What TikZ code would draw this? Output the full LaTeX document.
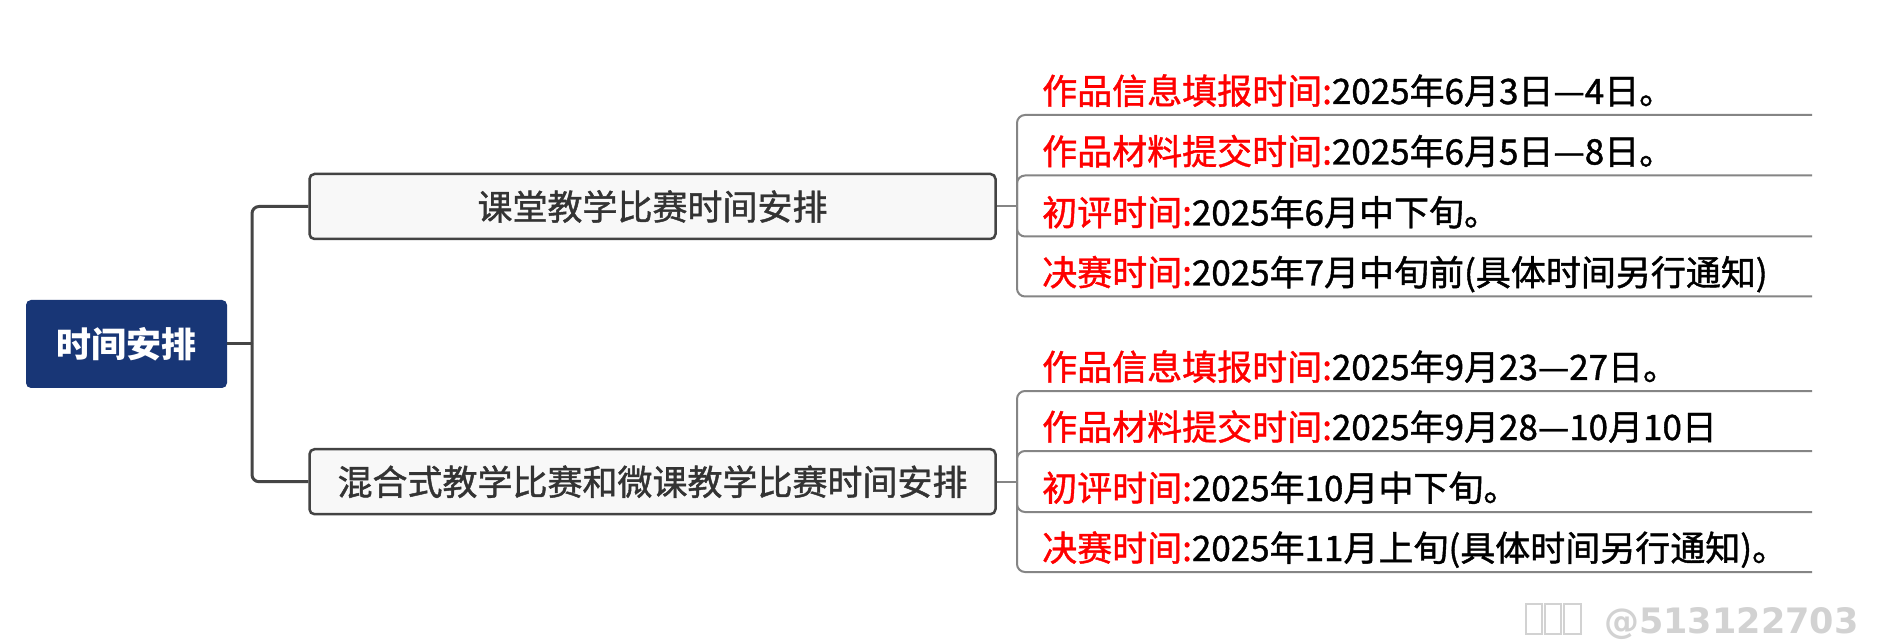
\documentclass[tikz,border=0pt]{standalone}
\usepackage{fontspec}
\newfontfamily\cjk{Noto Sans CJK SC}
\newfontfamily\cjkm[FakeBold=1.2]{Noto Sans CJK SC}
\newfontfamily\wmfont{DejaVu Sans}
\definecolor{rootblue}{HTML}{183676}
\definecolor{topicborder}{HTML}{434343}
\definecolor{topicfill}{HTML}{F8F8F8}
\definecolor{topictext}{HTML}{333333}
\definecolor{trunkgray}{HTML}{454545}
\definecolor{linegray}{HTML}{858585}
\definecolor{labelred}{HTML}{FF0000}
\definecolor{wmgray}{HTML}{D2D2D2}
\newcommand\lbl[1]{\textcolor{labelred}{#1}}
\begin{document}
\begin{tikzpicture}[x=1pt,y=-1pt,
  rootnode/.style={fill=rootblue, rounded corners=5pt, minimum width=201pt, minimum height=88pt, inner sep=0pt, text=white, font=\cjk\bfseries\fontsize{35}{42}\selectfont},
  topic/.style={draw=topicborder, line width=2.5pt, fill=topicfill, rounded corners=5pt, minimum width=686pt, minimum height=65pt, inner sep=0pt, text=topictext, font=\cjkm\fontsize{35}{42}\selectfont},
  leaf/.style={anchor=base west, inner sep=0pt, font=\cjkm\fontsize{35}{42}\selectfont, text=black},
  trunk/.style={draw=trunkgray, line width=3pt, rounded corners=7pt},
  leafline/.style={draw=linegray, line width=2pt, rounded corners=8pt},
  wm/.style={anchor=base west, inner sep=0pt, text=wmgray, font=\wmfont\bfseries\fontsize{35}{42}\selectfont},
  tofu/.style={draw=wmgray, line width=1.5pt}
]
\useasboundingbox[fill=white] (0,0) rectangle (1883,644);

% root and topics
\node[rootnode] (root) at (126.5,344) {时间安排};
\node[topic] (b1) at (652.5,206.5) {课堂教学比赛时间安排};
\node[topic] (b2) at (652.5,481.7) {混合式教学比赛和微课教学比赛时间安排};

\coordinate (t) at (252,344);
\draw[trunk] (root.east) -- (t);
\draw[trunk] (t) |- (b1.west);
\draw[trunk] (t) |- (b2.west);

% junctions
\coordinate (j1) at (1017,206.5);
\coordinate (j2) at (1017,481.7);
\draw[leafline] (b1.east) -- (j1);
\draw[leafline] (b2.east) -- (j2);

% group 1 leaves
\node[leaf] (l11) at (1042,104) {\lbl{作品信息填报时间:}2025年6月3日—4日。};
\node[leaf] (l12) at (1042,164.5) {\lbl{作品材料提交时间:}2025年6月5日—8日。};
\node[leaf] (l13) at (1042,225.5) {\lbl{初评时间:}2025年6月中下旬。};
\node[leaf] (l14) at (1042,285.5) {\lbl{决赛时间:}2025年7月中旬前(具体时间另行通知)};
\coordinate (e11) at (1812,115);
\coordinate (e12) at (1812,175.5);
\coordinate (e13) at (1812,236.5);
\coordinate (e14) at (1812,296.5);
\foreach \e in {e11,e12,e13,e14} \draw[leafline] (j1) |- (\e);

% group 2 leaves
\node[leaf] (l21) at (1042,380) {\lbl{作品信息填报时间:}2025年9月23—27日。};
\node[leaf] (l22) at (1042,440) {\lbl{作品材料提交时间:}2025年9月28—10月10日};
\node[leaf] (l23) at (1042,501) {\lbl{初评时间:}2025年10月中下旬。};
\node[leaf] (l24) at (1042,561) {\lbl{决赛时间:}2025年11月上旬(具体时间另行通知)。};
\coordinate (e21) at (1812,391);
\coordinate (e22) at (1812,451);
\coordinate (e23) at (1812,512);
\coordinate (e24) at (1812,572);
\foreach \e in {e21,e22,e23,e24} \draw[leafline] (j2) |- (\e);

% watermark
\draw[tofu] (1526,604) rectangle +(16,30);
\draw[tofu] (1545,604) rectangle +(16,30);
\draw[tofu] (1564,604) rectangle +(17,30);
\node[wm] (wm) at (1604,633) {@513122703};
\end{tikzpicture}
\end{document}
